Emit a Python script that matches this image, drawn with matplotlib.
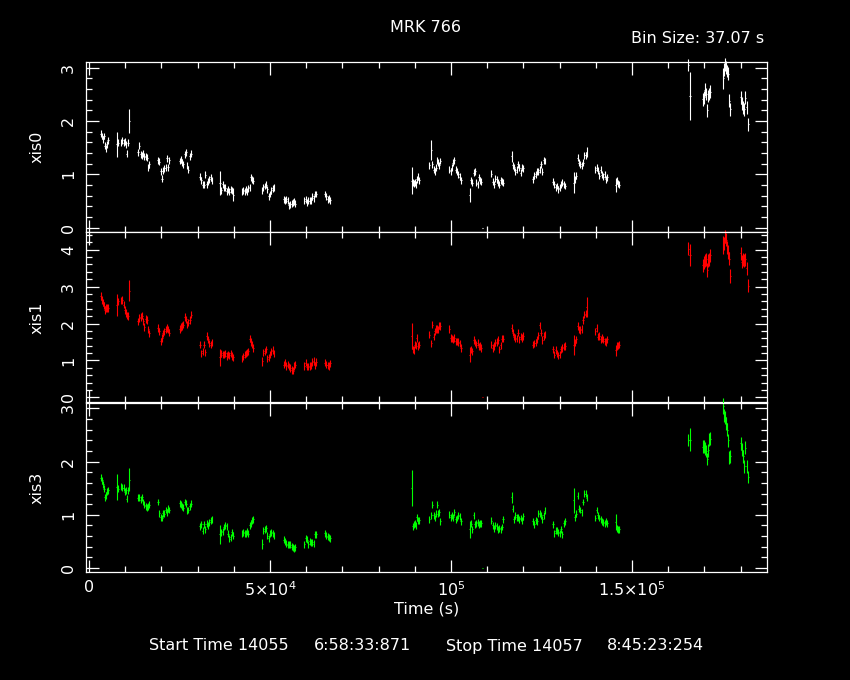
import numpy as np
import matplotlib
matplotlib.use('Agg')
import matplotlib.pyplot as plt
from matplotlib.ticker import MultipleLocator, FixedLocator

plt.rcParams['mathtext.default'] = 'regular'

# bin centres (s since start), one row per orbit segment
time_s = [
    3224, 3591, 3867, 4144, 4328, 4604, 4880, 5249,
    7643, 8011, 8932, 9208, 9577, 9853, 10130, 10406, 10773, 11141,
    13536, 13903, 14272, 14641, 15008, 15285, 15655, 16022, 16390, 16666,
    19061, 19428, 19889, 20166, 20442, 20809, 21179, 21547, 21823, 22190,
    25138, 25414, 25690, 26058, 26427, 26795, 27163, 27439, 27900, 28268,
    30663, 31031, 31400, 31768, 32136, 32505, 32873, 33241, 33610, 33886,
    36187, 36555, 36924, 37292, 37660, 38029, 38397, 38765, 39134, 39502, 39870,
    42357, 42633, 43002, 43278, 43646, 44014, 44383, 44659, 45027, 45396,
    47882, 48158, 48527, 48894, 49263, 49632, 50000, 50368, 50737, 51013,
    53775, 54143, 54511, 54880, 55248, 55616, 55985, 56353, 56721, 56997,
    59483, 59852, 60220, 60588, 60957, 61325, 61693, 62062, 62430, 62706,
    65193, 65560, 65930, 66298, 66666,
    89133, 89410, 89686, 89962, 90238, 90515, 90791, 91159,
    94013, 94566, 94842, 95210, 95486, 95855, 96223, 96499, 96775, 97052,
    99539, 99907, 100183, 100551, 100920, 101288, 101656, 102025, 102393, 102761,
    105157, 105524, 105892, 106261, 106629, 106997, 107366, 107734, 108102, 108378,
    108655,
    111140, 111509, 111877, 112246, 112614, 112982, 113350, 113719, 114087, 114363,
    116757, 117034, 117402, 117770, 118139, 118507, 118875, 119244, 119612, 119980,
    122651, 123019, 123388, 123756, 124124, 124493, 124861, 125229, 125598, 125874,
    128175, 128543, 128912, 129280, 129648, 130017, 130385, 130753, 131122, 131490,
    133885, 134253, 134621, 134990, 135358, 135726, 136095, 136463, 136831, 137200, 137476,
    139870, 140238, 140606, 140975, 141343, 141711, 142079, 142448, 142816, 143092,
    145485, 145761, 146038, 146406,
    165561, 166021,
    169518, 169886, 170162, 170439, 170807, 171083, 171359, 171635,
    175226, 175502, 175779, 176055, 176331, 176607, 176883, 177160,
    180019, 180387, 180755, 181031, 181307, 181676, 182136,
]

xis0 = [
    1.76, 1.72, 1.66, 1.72, 1.54, 1.49, 1.56, 1.64,
    1.56, 1.59, 1.59, 1.64, 1.59, 1.61, 1.56, 1.39, 1.59, 2.00,
    1.41, 1.54, 1.38, 1.36, 1.39, 1.33, 1.34, 1.31, 1.12, 1.19,
    1.26, 1.24, 1.06, 0.92, 1.07, 1.11, 1.12, 1.30, 1.13, 1.26,
    1.25, 1.28, 1.22, 1.19, 1.38, 1.41, 1.16, 1.09, 1.34, 1.39,
    0.95, 0.89, 0.80, 0.80, 0.99, 0.81, 0.86, 0.91, 0.94, 0.88,
    0.84, 0.70, 0.81, 0.76, 0.75, 0.68, 0.72, 0.67, 0.72, 0.70, 0.62,
    0.67, 0.70, 0.68, 0.72, 0.68, 0.74, 0.76, 0.94, 0.91, 0.88,
    0.70, 0.76, 0.78, 0.80, 0.72, 0.59, 0.63, 0.70, 0.74, 0.75,
    0.53, 0.51, 0.53, 0.50, 0.42, 0.44, 0.45, 0.47, 0.49, 0.45,
    0.50, 0.53, 0.47, 0.50, 0.50, 0.51, 0.59, 0.55, 0.63, 0.63,
    0.63, 0.59, 0.53, 0.55, 0.51,
    0.88, 0.84, 0.82, 0.84, 0.81, 0.91, 0.95, 0.89,
    1.17, 1.45, 1.19, 1.09, 1.05, 1.12, 1.26, 1.22, 1.17, 1.25,
    1.09, 1.06, 1.12, 1.22, 1.26, 1.09, 1.05, 1.00, 0.95, 0.89,
    0.61, 0.89, 0.84, 1.03, 1.06, 0.84, 0.81, 0.94, 0.88, 0.86,
    0.00,
    1.01, 0.86, 0.81, 0.92, 0.91, 0.84, 0.80, 0.89, 0.86, 0.84,
    1.34, 1.17, 1.13, 1.05, 1.09, 1.19, 1.12, 1.03, 1.12, 1.11,
    0.91, 0.97, 1.00, 1.05, 1.05, 1.09, 1.19, 1.05, 1.26, 1.25,
    0.86, 0.81, 0.76, 0.78, 0.72, 0.75, 0.80, 0.84, 0.81, 0.78,
    0.84, 0.91, 0.97, 1.31, 1.22, 1.19, 1.16, 1.22, 1.36, 1.36, 1.42,
    1.09, 1.12, 1.07, 0.97, 1.09, 0.99, 0.95, 1.00, 0.91, 0.94,
    0.80, 0.88, 0.82, 0.80,
    3.05, 2.47,
    2.41, 2.45, 2.59, 2.51, 2.20, 2.47, 2.51, 2.55,
    2.80, 2.97, 3.06, 3.01, 2.94, 2.89, 2.38, 2.22,
    2.45, 2.33, 2.26, 2.22, 2.44, 2.26, 1.94,
]

xis1 = [
    2.75, 2.64, 2.57, 2.48, 2.37, 2.42, 2.42, 2.42,
    2.51, 2.60, 2.62, 2.64, 2.51, 2.37, 2.28, 2.21, 2.20, 2.89,
    2.06, 2.15, 2.18, 2.21, 2.06, 1.91, 2.12, 2.09, 1.84, 1.73,
    1.88, 1.79, 1.52, 1.61, 1.73, 1.79, 1.84, 1.88, 1.84, 1.75,
    1.85, 1.91, 1.93, 1.97, 2.18, 2.11, 1.97, 2.02, 2.09, 2.24,
    1.43, 1.19, 1.25, 1.43, 1.22, 1.66, 1.57, 1.46, 1.43, 1.48,
    1.08, 1.19, 1.16, 1.16, 1.19, 1.12, 1.16, 1.14, 1.19, 1.12, 1.08,
    1.05, 1.10, 1.16, 1.19, 1.21, 1.25, 1.59, 1.50, 1.43, 1.34,
    0.98, 1.21, 1.25, 1.30, 1.05, 1.08, 1.16, 1.25, 1.28, 1.19,
    0.89, 0.94, 0.85, 0.89, 0.83, 0.80, 0.74, 0.72, 0.85, 0.89,
    0.85, 0.94, 0.83, 0.83, 0.85, 0.87, 0.96, 0.98, 0.87, 0.96,
    0.94, 0.89, 0.87, 0.85, 0.92,
    1.66, 1.30, 1.28, 1.43, 1.41, 1.61, 1.39, 1.43,
    1.70, 1.46, 1.97, 1.64, 1.79, 1.85, 1.85, 1.84, 1.95, 1.93,
    1.85, 1.61, 1.59, 1.57, 1.61, 1.52, 1.52, 1.50, 1.46, 1.34,
    1.16, 1.30, 1.25, 1.55, 1.48, 1.43, 1.48, 1.37, 1.39, 1.34,
    0.00,
    1.43, 1.34, 1.39, 1.48, 1.50, 1.55, 1.30, 1.41, 1.59, 1.59,
    1.88, 1.75, 1.64, 1.61, 1.59, 1.75, 1.57, 1.64, 1.61, 1.66,
    1.43, 1.46, 1.48, 1.57, 1.68, 1.95, 1.75, 1.55, 1.66, 1.70,
    1.30, 1.16, 1.28, 1.19, 1.14, 1.16, 1.30, 1.34, 1.37, 1.39,
    1.41, 1.48, 1.57, 1.93, 1.84, 1.82, 1.85, 2.09, 2.24, 2.27, 2.45,
    1.79, 1.88, 1.64, 1.66, 1.57, 1.61, 1.57, 1.52, 1.50, 1.57,
    1.28, 1.39, 1.41, 1.43,
    4.03, 3.85,
    3.58, 3.65, 3.70, 3.74, 3.45, 3.70, 3.74, 3.85,
    4.12, 4.17, 4.36, 4.27, 4.05, 3.94, 3.76, 3.29,
    3.90, 3.67, 3.74, 3.70, 3.74, 3.49, 3.02,
]

xis3 = [
    1.70, 1.65, 1.57, 1.49, 1.33, 1.36, 1.43, 1.46,
    1.52, 1.49, 1.53, 1.51, 1.51, 1.43, 1.45, 1.30, 1.46, 1.66,
    1.32, 1.33, 1.28, 1.33, 1.24, 1.19, 1.16, 1.13, 1.16, 1.19,
    1.24, 1.03, 0.95, 0.94, 1.03, 1.02, 1.09, 1.05, 1.11, 1.09,
    1.22, 1.19, 1.16, 1.13, 1.24, 1.21, 1.08, 1.09, 1.16, 1.21,
    0.78, 0.82, 0.70, 0.82, 0.73, 0.83, 0.80, 0.86, 0.90, 0.92,
    0.63, 0.67, 0.69, 0.77, 0.80, 0.78, 0.64, 0.55, 0.58, 0.67, 0.61,
    0.64, 0.67, 0.65, 0.64, 0.69, 0.64, 0.80, 0.84, 0.90, 0.92,
    0.45, 0.70, 0.73, 0.75, 0.61, 0.56, 0.64, 0.67, 0.65, 0.61,
    0.53, 0.50, 0.46, 0.44, 0.45, 0.44, 0.40, 0.38, 0.36, 0.39,
    0.45, 0.56, 0.53, 0.45, 0.50, 0.48, 0.48, 0.46, 0.63, 0.63,
    0.65, 0.61, 0.59, 0.58, 0.56,
    1.51, 0.78, 0.82, 0.84, 0.80, 0.95, 0.89, 0.90,
    0.92, 0.99, 1.19, 0.99, 0.94, 1.02, 1.19, 1.02, 1.05, 0.88,
    1.00, 0.95, 0.99, 0.95, 1.05, 0.92, 0.94, 0.99, 0.97, 0.88,
    0.73, 0.83, 0.73, 0.99, 0.82, 0.84, 0.86, 0.82, 0.83, 0.84,
    0.00,
    0.89, 0.80, 0.75, 0.80, 0.78, 0.73, 0.75, 0.73, 0.77, 0.92,
    1.33, 1.11, 0.92, 0.99, 0.95, 0.95, 0.92, 0.94, 0.90, 0.97,
    0.88, 0.82, 0.90, 0.88, 1.02, 1.03, 0.99, 0.92, 0.99, 1.08,
    0.82, 0.65, 0.70, 0.71, 0.67, 0.65, 0.73, 0.63, 0.84, 0.88,
    1.27, 0.95, 1.02, 1.36, 1.11, 1.09, 1.05, 1.24, 1.40, 1.40, 1.32,
    0.94, 1.09, 0.99, 0.94, 0.92, 0.88, 0.86, 0.84, 0.88, 0.84,
    0.86, 0.75, 0.73, 0.73,
    2.41, 2.41,
    2.28, 2.28, 2.24, 2.20, 2.05, 2.21, 2.41, 2.43,
    3.04, 2.87, 2.83, 2.72, 2.60, 2.40, 2.07, 2.10,
    2.34, 2.22, 2.10, 1.91, 2.26, 1.91, 1.71,
]

# typical 1-sigma errors (faint state, bright state) and the larger ones
err_typ = {'xis0': (0.065, 0.12), 'xis1': (0.10, 0.18), 'xis3': (0.065, 0.12)}
err_big = {
    'xis0': {7643: 0.23, 11141: 0.23, 36187: 0.22, 39870: 0.12, 89133: 0.25,
             94566: 0.19, 105157: 0.14, 116757: 0.10, 133885: 0.20,
             137476: 0.10, 145485: 0.13, 165561: 0.11, 166021: 0.45, 175226: 0.20},
    'xis1': {7643: 0.30, 11141: 0.28, 36187: 0.22, 47882: 0.12, 89133: 0.36,
             105157: 0.20, 133885: 0.27, 137476: 0.27, 145485: 0.15,
             165561: 0.17, 166021: 0.30, 175226: 0.25},
    'xis3': {7643: 0.245, 11141: 0.21, 36187: 0.17, 47882: 0.09, 89133: 0.34,
             105157: 0.16, 116757: 0.10, 133885: 0.24, 145485: 0.15,
             165561: 0.11, 166021: 0.22, 175226: 0.15},
}
zero_bin = 108655
bin_half = 185

panels = [('xis0', xis0, 'white', (-0.075, 3.11), [0, 1, 2, 3]),
          ('xis1', xis1, '#ff0000', (-0.12, 4.47), [0, 1, 2, 3, 4]),
          ('xis3', xis3, '#00ff00', (-0.075, 3.11), [0, 1, 2, 3])]

t = np.array(time_s, dtype=float)

fig = plt.figure(figsize=(8.5, 6.8), dpi=100, facecolor='black')
left, width = 86 / 850, 681 / 850
tops = [62, 232.3, 402.5]
h = 169.5 / 680

axes = []
for i, (name, vals, col, ylim, yt) in enumerate(panels):
    ax = fig.add_axes([left, 1 - (tops[i] + 169.5) / 680, width, h])
    ax.set_facecolor('black')
    v = np.array(vals)
    lo, hi = err_typ[name]
    err = np.where(t > 150000, hi, lo)
    for tb, e in err_big[name].items():
        err[t == tb] = e
    err[t == zero_bin] = 0
    eb = ax.errorbar(t, v, xerr=bin_half, yerr=err, fmt='none',
                     ecolor=col, elinewidth=0.8, capsize=0)
    for art in eb.lines[2]:
        art.set_clip_on(False)

    ax.set_xlim(-830, 187300)
    ax.set_ylim(*ylim)
    ax.xaxis.set_major_locator(MultipleLocator(50000))
    ax.xaxis.set_minor_locator(MultipleLocator(10000))
    ax.yaxis.set_major_locator(FixedLocator(yt))
    ax.yaxis.set_minor_locator(MultipleLocator(0.2))
    for s in ax.spines.values():
        s.set_color('white')
        s.set_linewidth(0.9)
    ax.tick_params(which='both', direction='in', top=True, right=True,
                   colors='white', width=0.9)
    ax.tick_params(which='major', length=9)
    ax.tick_params(which='minor', length=4.5)
    ax.tick_params(axis='y', labelrotation=90, pad=7, labelsize=11.5)
    ax.set_yticklabels([str(k) for k in yt], va='center')
    fig.text(37 / 850, 1 - (tops[i] + 85) / 680, name, color='white',
             rotation=90, ha='center', va='center', fontsize=11.5)
    if i < 2:
        ax.tick_params(axis='x', labelbottom=False)
    axes.append(ax)

axes[2].set_xticks([0, 50000, 100000, 150000])
axes[2].set_xticklabels(['0', r'$5{\times}10^{4}$', r'$10^{5}$',
                         r'$1.5{\times}10^{5}$'])
axes[2].tick_params(axis='x', labelsize=11.5, pad=6)

fig.text(425 / 850, 1 - 27 / 680, 'MRK 766', color='white', ha='center',
         va='center', fontsize=11.5)
fig.text(764 / 850, 1 - 38.5 / 680, 'Bin Size: 37.07 s', color='white',
         ha='right', va='center', fontsize=11.5)
fig.text(427 / 850, 1 - 609 / 680, 'Time (s)', color='white', ha='center',
         va='center', fontsize=11.5)
fig.text(149 / 850, 1 - 646 / 680, 'Start Time 14055', color='white',
         ha='left', va='center', fontsize=11.5)
fig.text(314 / 850, 1 - 646 / 680, '6:58:33:871', color='white',
         ha='left', va='center', fontsize=11.5)
fig.text(446 / 850, 1 - 646 / 680, 'Stop Time 14057', color='white',
         ha='left', va='center', fontsize=11.5)
fig.text(607 / 850, 1 - 646 / 680, '8:45:23:254', color='white',
         ha='left', va='center', fontsize=11.5)

fig.savefig('out.png', dpi=100, facecolor='black')
